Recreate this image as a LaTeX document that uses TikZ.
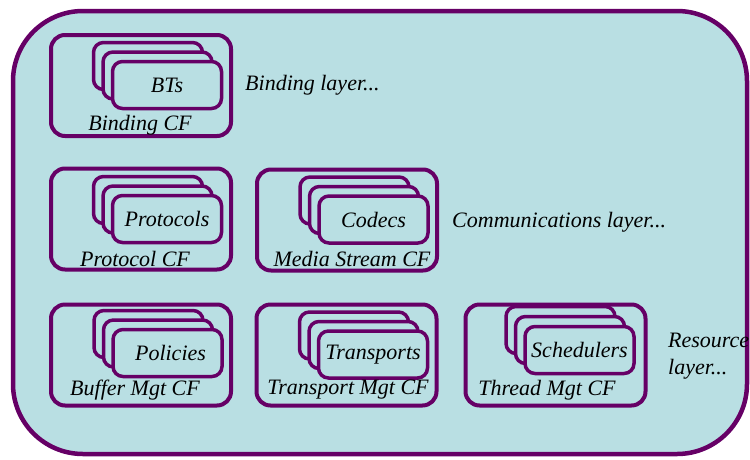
\documentclass[tikz,border=0pt]{standalone}
\usepackage{fontspec}
\newfontfamily\tnr{Liberation Serif}
\definecolor{pur}{HTML}{660066}
\definecolor{bg}{HTML}{B9DFE3}
\begin{document}
\begin{tikzpicture}[x=1pt,y=-1pt,
  font=\tnr\fontsize{22}{27}\selectfont\itshape,
  cfbox/.style={draw=pur, fill=bg, line width=4pt, rounded corners=14pt, inner sep=0pt, minimum width=180pt, minimum height=101pt},
  sbox/.style={draw=pur, fill=bg, line width=3.5pt, rounded corners=10pt, inner sep=0pt, minimum width=109pt, minimum height=47pt},
  lbl/.style={inner sep=0pt, text=black},
  layer/.style={inner sep=0pt, anchor=west, align=left, text=black}]
\useasboundingbox (0,0) rectangle (750,459);
\node[draw=pur, fill=bg, line width=4.5pt, rounded corners=70pt, inner sep=0pt, minimum width=734pt, minimum height=443pt] (outer) at (380,232.5) {};

% Binding CF
\node[cfbox] (bcf) at (141,85.5) {};
\node[sbox] (bt3) at (148,66) {};
\node[sbox] (bt2) at (157.5,75.5) {};
\node[sbox] (bt1) at (167,85) {BTs};
\node[lbl] (bcfl) at (140,125) {Binding CF};
\node[layer] (bl) at (245,85) {Binding layer...};

% Protocol CF
\node[cfbox] (pcf) at (141,219) {};
\node[sbox] (pr3) at (148,200) {};
\node[sbox] (pr2) at (157.5,209.5) {};
\node[sbox] (pr1) at (167,219) {Protocols};
\node[lbl] (pcfl) at (135,259) {Protocol CF};

% Media Stream CF
\node[cfbox] (mcf) at (347,220) {};
\node[sbox] (co3) at (354.5,200.5) {};
\node[sbox] (co2) at (364,210) {};
\node[sbox] (co1) at (373.5,219.5) {Codecs};
\node[lbl] (mcfl) at (352,259) {Media Stream CF};
\node[layer] (cl) at (452,222) {Communications layer...};

% Buffer Mgt CF
\node[cfbox] (bufcf) at (141,355) {};
\node[sbox] (po3) at (148.5,334) {};
\node[sbox] (po2) at (158,343.5) {};
\node[sbox] (po1) at (167.5,353) {\hspace*{6pt}Policies};
\node[lbl] (bufl) at (135,390) {Buffer Mgt CF};

% Transport Mgt CF
\node[cfbox] (tcf) at (346.5,355) {};
\node[sbox] (tr3) at (354,335.5) {};
\node[sbox] (tr2) at (363.5,345) {};
\node[sbox] (tr1) at (373,354.5) {Transports};
\node[lbl] (tcfl) at (348,390) {Transport Mgt CF};

% Thread Mgt CF
\node[cfbox] (thcf) at (555.5,355) {};
\node[sbox] (sc3) at (560.5,330) {};
\node[sbox] (sc2) at (570,340) {};
\node[sbox] (sc1) at (579.5,350) {Schedulers};
\node[lbl] (thl) at (547,390) {Thread Mgt CF};
\node[layer] (rl) at (668,356.5) {Resource\\layer...};
\end{tikzpicture}
\end{document}
